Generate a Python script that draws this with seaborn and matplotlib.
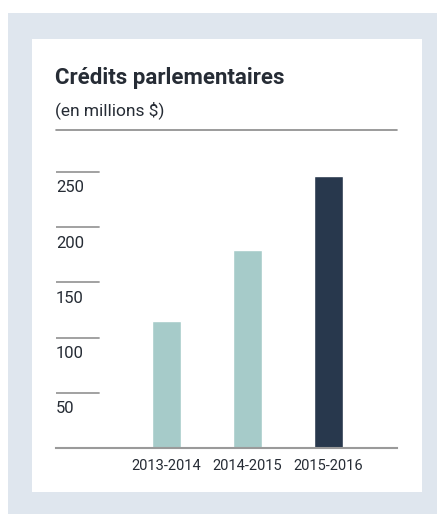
import matplotlib
matplotlib.use("Agg")
import matplotlib.pyplot as plt
import seaborn as sns
import pandas as pd
from matplotlib.patches import Rectangle
from matplotlib.lines import Line2D
from matplotlib import font_manager

categories = ["2013-2014", "2014-2015", "2015-2016"]
values = [115, 179, 246]
bar_colors = ["#a6cbc9", "#a6cbc9", "#28384d"]
yticks = [50, 100, 150, 200, 250]
title = "Crédits parlementaires"
subtitle = "(en millions $)"

sns.set_theme(style="white")
names = {f.name for f in font_manager.fontManager.ttflist}
fam = "Liberation Sans Narrow" if "Liberation Sans Narrow" in names else "Roboto"
plt.rcParams["font.family"] = [fam, "DejaVu Sans"]

W, H = 437, 514
fig = plt.figure(figsize=(W / 100, H / 100), dpi=100)
fig.patch.set_facecolor("white")

def fx(px):
    return px / W

def fy(py):
    return 1 - py / H

# outer blue panel and white card
fig.patches.append(Rectangle((fx(8), 0), fx(437 - 8), fy(13), transform=fig.transFigure,
                             facecolor="#dfe6ee", edgecolor="none", zorder=-2))
fig.patches.append(Rectangle((fx(32), fy(492)), fx(422 - 32), (492 - 39) / H,
                             transform=fig.transFigure, facecolor="white", edgecolor="none", zorder=-1))

text_color = "#262c35"
fig.text(fx(55), fy(78), title, fontsize=16, fontweight="bold", color=text_color, va="center", ha="left")
fig.text(fx(55), fy(110), subtitle, fontsize=12.5, color=text_color, va="center", ha="left")
fig.lines.append(Line2D([fx(56), fx(397)], [fy(130), fy(130)], transform=fig.transFigure,
                        color="#8a8a8a", linewidth=1.2))

ymax = 260
ppu = (448 - 172) / 250
top_px = 448 - ymax * ppu
ax = fig.add_axes([fx(56), fy(448), fx(397 - 56), (448 - top_px) / H])
ax.set_zorder(2)
ax.set_facecolor("none")

df = pd.DataFrame({"cat": categories, "val": values})
sns.barplot(data=df, x="cat", y="val", hue="cat", palette=bar_colors, width=0.358,
            legend=False, ax=ax, saturation=1)

ax.set_xlim(-1.364, 2.846)
ax.set_ylim(0, ymax)
for s in ["top", "right", "left"]:
    ax.spines[s].set_visible(False)
ax.spines["bottom"].set_color("#9a9a9a")
ax.spines["bottom"].set_linewidth(1.5)
ax.set_yticks([])
ax.set_xlabel("")
ax.set_ylabel("")
ax.tick_params(axis="x", length=0, pad=8, labelsize=10.5, labelcolor=text_color)

for v in yticks:
    ax.axhline(v, xmin=0, xmax=43 / 341, color="#9a9a9a", linewidth=1.3)
    ax.annotate(str(v), xy=(0, v), xycoords=("axes fraction", "data"), xytext=(0, -6),
                textcoords="offset points", va="top", ha="left", fontsize=12, color=text_color)

fig.savefig("out.png", dpi=100)
